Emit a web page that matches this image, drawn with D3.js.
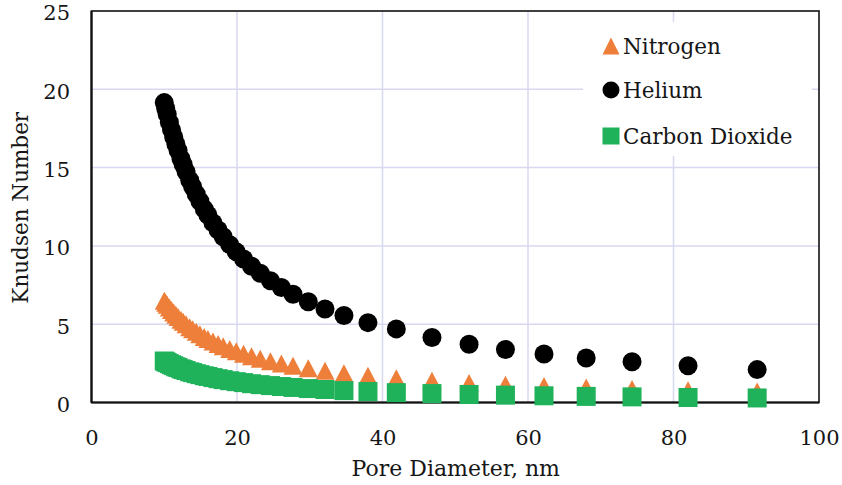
<!DOCTYPE html>
<html>
<head>
<meta charset="utf-8">
<script src="https://cdn.jsdelivr.net/npm/d3@7"></script>
<style>
  html, body { margin: 0; padding: 0; background: #fff; }
  svg { display: block; }
  text { font-family: "DejaVu Serif", "Liberation Serif", serif; fill: #161616; }
</style>
</head>
<body>
<svg id="chart" width="842" height="485"></svg>
<script>
// Pore diameter (nm) shared by all three gases
const poreDiameter = [
  10.0, 10.2, 10.4, 10.7, 11.0, 11.3, 11.6, 11.9, 12.3, 12.6,
  13.0, 13.5, 13.9, 14.4, 14.9, 15.5, 16.0, 16.7, 17.4, 18.1,
  19.0, 19.9, 20.9, 22.0, 23.2, 24.6, 26.1, 27.7, 29.8, 32.1,
  34.7, 38.0, 41.9, 46.8, 51.9, 56.9, 62.2, 68.0, 74.3, 82.0, 91.5
];

// Knudsen number per gas
const nitrogen = [
  6.50, 6.37, 6.25, 6.07, 5.91, 5.75, 5.60, 5.46, 5.28, 5.16,
  5.00, 4.81, 4.68, 4.51, 4.36, 4.19, 4.06, 3.89, 3.74, 3.59,
  3.42, 3.27, 3.11, 2.95, 2.80, 2.64, 2.49, 2.35, 2.18, 2.02,
  1.87, 1.71, 1.55, 1.39, 1.25, 1.14, 1.05, 0.96, 0.87, 0.79, 0.71
];
const helium = [
  19.15, 18.77, 18.41, 17.90, 17.41, 16.95, 16.51, 16.09, 15.57, 15.20,
  14.73, 14.19, 13.78, 13.30, 12.85, 12.35, 11.97, 11.47, 11.01, 10.58,
  10.08, 9.62, 9.16, 8.70, 8.25, 7.78, 7.34, 6.91, 6.43, 5.97,
  5.55, 5.10, 4.70, 4.15, 3.72, 3.39, 3.10, 2.84, 2.60, 2.35, 2.10
];
const carbonDioxide = [
  2.65, 2.60, 2.55, 2.48, 2.41, 2.35, 2.28, 2.23, 2.15, 2.10,
  2.04, 1.96, 1.91, 1.84, 1.78, 1.71, 1.66, 1.59, 1.52, 1.46,
  1.39, 1.33, 1.27, 1.20, 1.14, 1.08, 1.02, 0.96, 0.89, 0.83,
  0.76, 0.70, 0.63, 0.57, 0.51, 0.47, 0.43, 0.39, 0.36, 0.32, 0.29
];

const seriesNames = ["Nitrogen", "Helium", "Carbon Dioxide"];
const xTicks = [0, 20, 40, 60, 80, 100];
const yTicks = [0, 5, 10, 15, 20, 25];
const xTitle = "Pore Diameter, nm";
const yTitle = "Knudsen Number";

const svg = d3.select("#chart");
const plotLeft = 91.5, plotRight = 819, plotTop = 11, plotBottom = 402.5;

const x = d3.scaleLinear().domain([0, 100]).range([plotLeft, plotRight]);
const y = d3.scaleLinear().domain([0, 25]).range([plotBottom, plotTop]);

const gridColor = "#d8d9f0";

// gridlines
svg.append("g")
  .selectAll("line")
  .data(xTicks.filter(t => t > 0 && t < 100))
  .join("line")
  .attr("x1", d => x(d)).attr("x2", d => x(d))
  .attr("y1", plotTop).attr("y2", plotBottom)
  .attr("stroke", gridColor).attr("stroke-width", 1.5);
svg.append("g")
  .selectAll("line")
  .data(yTicks.filter(t => t > 0 && t < 25))
  .join("line")
  .attr("x1", plotLeft).attr("x2", plotRight)
  .attr("y1", d => y(d)).attr("y2", d => y(d))
  .attr("stroke", gridColor).attr("stroke-width", 1.5);

// legend background (hides gridlines behind it)
svg.append("rect")
  .attr("x", 583).attr("y", 22)
  .attr("width", 229).attr("height", 134)
  .attr("fill", "#fff");

// frame
svg.append("rect")
  .attr("x", plotLeft).attr("y", plotTop)
  .attr("width", plotRight - plotLeft).attr("height", plotBottom - plotTop)
  .attr("fill", "none").attr("stroke", "#111").attr("stroke-width", 1.6);
svg.append("line")
  .attr("x1", plotLeft).attr("x2", plotRight).attr("y1", plotBottom).attr("y2", plotBottom)
  .attr("stroke", "#111").attr("stroke-width", 2.2);
svg.append("line")
  .attr("x1", plotLeft).attr("x2", plotLeft).attr("y1", plotTop).attr("y2", plotBottom)
  .attr("stroke", "#111").attr("stroke-width", 2.2);

// axes (labels only)
const xAxis = svg.append("g")
  .attr("transform", `translate(0,${plotBottom})`)
  .call(d3.axisBottom(x).tickValues(xTicks).tickSize(0).tickPadding(27.5).tickFormat(d3.format("d")));
xAxis.select(".domain").remove();
xAxis.selectAll("text").attr("font-size", 21).attr("font-family", "DejaVu Serif").attr("fill", "#161616");

const yAxis = svg.append("g")
  .attr("transform", `translate(${plotLeft},0)`)
  .call(d3.axisLeft(y).tickValues(yTicks).tickSize(0).tickPadding(21.5).tickFormat(d3.format("d")));
yAxis.select(".domain").remove();
yAxis.selectAll("text").attr("font-size", 21).attr("font-family", "DejaVu Serif").attr("fill", "#161616").attr("dy", "0.42em");

// axis titles
svg.append("text")
  .attr("x", (plotLeft + plotRight) / 2 + 0.5).attr("y", 476)
  .attr("text-anchor", "middle").attr("font-size", 22)
  .text(xTitle);
svg.append("text")
  .attr("transform", `translate(28,${(plotTop + plotBottom) / 2 + 1}) rotate(-90)`)
  .attr("text-anchor", "middle").attr("font-size", 21.5)
  .text(yTitle);

// marker shapes
const colors = { n2: "#ee7f3a", he: "#000000", co2: "#1fb25b" };
function triPath(w, h) {
  return `M0,${-h / 2}L${w / 2},${h / 2}L${-w / 2},${h / 2}Z`;
}

const rows = poreDiameter.map((d, i) => ({ d, n2: nitrogen[i], he: helium[i], co2: carbonDioxide[i] }));

// Nitrogen triangles
svg.append("g").selectAll("path")
  .data(rows).join("path")
  .attr("transform", r => `translate(${x(r.d)},${y(r.n2)})`)
  .attr("d", triPath(19, 18))
  .attr("fill", colors.n2);

// Helium circles
svg.append("g").selectAll("circle")
  .data(rows).join("circle")
  .attr("cx", r => x(r.d)).attr("cy", r => y(r.he))
  .attr("r", 9.5)
  .attr("fill", colors.he);

// Carbon dioxide squares
svg.append("g").selectAll("rect")
  .data(rows).join("rect")
  .attr("x", r => x(r.d) - 9.5).attr("y", r => y(r.co2) - 9.5)
  .attr("width", 19).attr("height", 19)
  .attr("fill", colors.co2);

// legend
const lg = svg.append("g");
const legendRows = [
  { name: seriesNames[0], cy: 46, kind: "tri", color: colors.n2 },
  { name: seriesNames[1], cy: 90, kind: "circle", color: colors.he },
  { name: seriesNames[2], cy: 136, kind: "square", color: colors.co2 }
];
legendRows.forEach(r => {
  const mx = 611;
  if (r.kind === "tri") {
    lg.append("path").attr("transform", `translate(${mx},${r.cy})`).attr("d", triPath(17, 17)).attr("fill", r.color);
  } else if (r.kind === "circle") {
    lg.append("circle").attr("cx", mx).attr("cy", r.cy).attr("r", 8.5).attr("fill", r.color);
  } else {
    lg.append("rect").attr("x", mx - 8.5).attr("y", r.cy - 8.5).attr("width", 17).attr("height", 17).attr("fill", r.color);
  }
  lg.append("text").attr("x", 623).attr("y", r.cy + 7.5)
    .attr("font-size", 21.5).text(r.name);
});
</script>
</body>
</html>
